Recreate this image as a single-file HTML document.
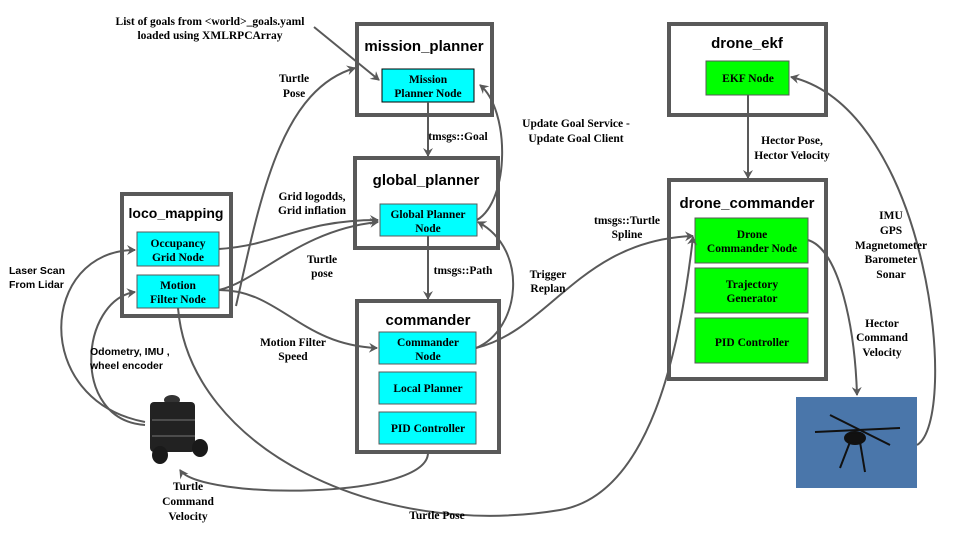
<!DOCTYPE html>
<html><head><meta charset="utf-8"><style>
body{margin:0;background:#fff;}
svg{display:block;}
.t{font-family:"Liberation Serif",serif;font-weight:bold;font-size:11.5px;fill:#000;text-anchor:middle;}
.s{font-family:"Liberation Sans",sans-serif;font-weight:bold;font-size:10.5px;fill:#000;}
.h{font-family:"Liberation Sans",sans-serif;font-weight:bold;font-size:15px;fill:#000;text-anchor:middle;}
.box{fill:#fff;stroke:#595959;stroke-width:4;}
.c{fill:#00ffff;stroke:#595959;stroke-width:1;}
.g{fill:#00ff00;stroke:#595959;stroke-width:1;}
.a{fill:none;stroke:#595959;stroke-width:2;marker-end:url(#ar);}
</style></head><body>
<svg width="960" height="540" viewBox="0 0 960 540">
<defs><marker id="ar" markerWidth="10" markerHeight="10" refX="8" refY="5" orient="auto" markerUnits="userSpaceOnUse"><path d="M0,0 L9,5 L0,10 L3,5 z" fill="#595959"/></marker></defs>

<rect class="box" x="357" y="24" width="135" height="91"/>
<text class="h" x="424" y="51">mission_planner</text>
<rect x="382" y="69" width="92" height="33" fill="#00ffff" stroke="#000" stroke-width="1"/>
<text class="t" x="428" y="83">Mission</text><text class="t" x="428" y="97">Planner Node</text>

<rect class="box" x="355" y="158" width="143" height="90"/>
<text class="h" x="426" y="185">global_planner</text>
<rect class="c" x="380" y="204" width="97" height="32"/>
<text class="t" x="428" y="218">Global Planner</text><text class="t" x="428" y="232">Node</text>

<rect class="box" x="357" y="301" width="142" height="151"/>
<text class="h" x="428" y="325">commander</text>
<rect class="c" x="379" y="332" width="97" height="32"/>
<text class="t" x="428" y="346">Commander</text><text class="t" x="428" y="360">Node</text>
<rect class="c" x="379" y="372" width="97" height="32"/>
<text class="t" x="428" y="392">Local Planner</text>
<rect class="c" x="379" y="412" width="97" height="32"/>
<text class="t" x="428" y="432">PID Controller</text>

<rect class="box" x="122" y="194" width="109" height="122"/>
<text class="h" x="176" y="218" style="font-size:14px">loco_mapping</text>
<rect class="c" x="137" y="232" width="82" height="34"/>
<text class="t" x="178" y="247">Occupancy</text><text class="t" x="178" y="261">Grid Node</text>
<rect class="c" x="137" y="275" width="82" height="33"/>
<text class="t" x="178" y="289">Motion</text><text class="t" x="178" y="303">Filter Node</text>

<rect class="box" x="669" y="24" width="157" height="91"/>
<text class="h" x="747" y="48">drone_ekf</text>
<rect class="g" x="706" y="61" width="83" height="34"/>
<text class="t" x="748" y="82">EKF Node</text>

<rect class="box" x="669" y="180" width="157" height="199"/>
<text class="h" x="747" y="208">drone_commander</text>
<rect class="g" x="695" y="218" width="113" height="45"/>
<text class="t" x="752" y="238">Drone</text><text class="t" x="752" y="252">Commander Node</text>
<rect class="g" x="695" y="268" width="113" height="45"/>
<text class="t" x="752" y="288">Trajectory</text><text class="t" x="752" y="302">Generator</text>
<rect class="g" x="695" y="318" width="113" height="45"/>
<text class="t" x="752" y="346">PID Controller</text>

<rect x="796" y="397" width="121" height="91" fill="#4a76aa"/>
<g stroke="#111" stroke-width="2" fill="#111">
<line x1="815" y1="432" x2="900" y2="428"/><line x1="830" y1="415" x2="890" y2="445"/>
<ellipse cx="855" cy="438" rx="10" ry="6"/>
<line x1="850" y1="442" x2="840" y2="468"/><line x1="860" y1="442" x2="865" y2="472"/>
</g>
<g>
<ellipse cx="172" cy="400" rx="8" ry="5" fill="#333"/>
<rect x="150" y="402" width="45" height="50" rx="4" fill="#222"/>
<ellipse cx="160" cy="455" rx="8" ry="9" fill="#1a1a1a"/><ellipse cx="200" cy="448" rx="8" ry="9" fill="#1a1a1a"/>
<line x1="152" y1="420" x2="195" y2="420" stroke="#777"/><line x1="152" y1="436" x2="195" y2="436" stroke="#777"/>
</g>

<path class="a" d="M314,27 L379,80"/>
<path class="a" d="M428,102 L428,156"/>
<path class="a" d="M428,236 L428,299"/>
<path class="a" d="M748,95 L748,178"/>
<path class="a" d="M236,306 C260,200 280,90 355,68"/>
<path class="a" d="M219,249 C280,245 300,220 378,220"/>
<path class="a" d="M219,290 C260,280 300,230 378,222"/>
<path class="a" d="M219,290 C280,290 300,345 377,348"/>
<path class="a" d="M477,220 C510,200 510,110 480,85"/>
<path class="a" d="M476,348 C520,330 530,250 478,222"/>
<path class="a" d="M476,348 C550,330 580,240 693,236"/>
<path class="a" d="M178,308 C190,450 380,540 560,510 C650,495 680,350 693,237"/>
<path class="a" d="M808,240 C840,250 855,330 857,395"/>
<path class="a" d="M917,445 C960,420 930,110 791,77"/>
<path class="a" d="M428,452 C430,500 200,500 180,470"/>
<path class="a" d="M145,422 C30,400 40,250 135,250"/>
<path class="a" d="M145,425 C70,420 80,300 135,292"/>

<text class="t" x="210" y="25">List of goals from &lt;world&gt;_goals.yaml</text>
<text class="t" x="210" y="39">loaded using XMLRPCArray</text>
<text class="t" x="294" y="82">Turtle</text><text class="t" x="294" y="97">Pose</text>
<text class="t" x="312" y="200">Grid logodds,</text><text class="t" x="312" y="214">Grid inflation</text>
<text class="t" x="322" y="263">Turtle</text><text class="t" x="322" y="277">pose</text>
<text class="t" x="293" y="346">Motion Filter</text><text class="t" x="293" y="360">Speed</text>
<text class="t" x="458" y="140">tmsgs::Goal</text>
<text class="t" x="463" y="274">tmsgs::Path</text>
<text class="t" x="576" y="127">Update Goal Service -</text><text class="t" x="576" y="142">Update Goal Client</text>
<text class="t" x="548" y="278">Trigger</text><text class="t" x="548" y="292">Replan</text>
<text class="t" x="627" y="224">tmsgs::Turtle</text><text class="t" x="627" y="238">Spline</text>
<text class="t" x="792" y="144">Hector Pose,</text><text class="t" x="792" y="159">Hector Velocity</text>
<text class="t" x="891" y="219">IMU</text><text class="t" x="891" y="234">GPS</text><text class="t" x="891" y="249">Magnetometer</text><text class="t" x="891" y="263">Barometer</text><text class="t" x="891" y="278">Sonar</text>
<text class="t" x="882" y="327">Hector</text><text class="t" x="882" y="341">Command</text><text class="t" x="882" y="356">Velocity</text>
<text class="t" x="188" y="490">Turtle</text><text class="t" x="188" y="505">Command</text><text class="t" x="188" y="520">Velocity</text>
<text class="t" x="437" y="519">Turtle Pose</text>
<text class="s" x="9" y="274">Laser Scan</text><text class="s" x="9" y="288">From Lidar</text>
<text class="s" x="90" y="355">Odometry, IMU ,</text><text class="s" x="90" y="369">wheel encoder</text>
</svg>
</body></html>
